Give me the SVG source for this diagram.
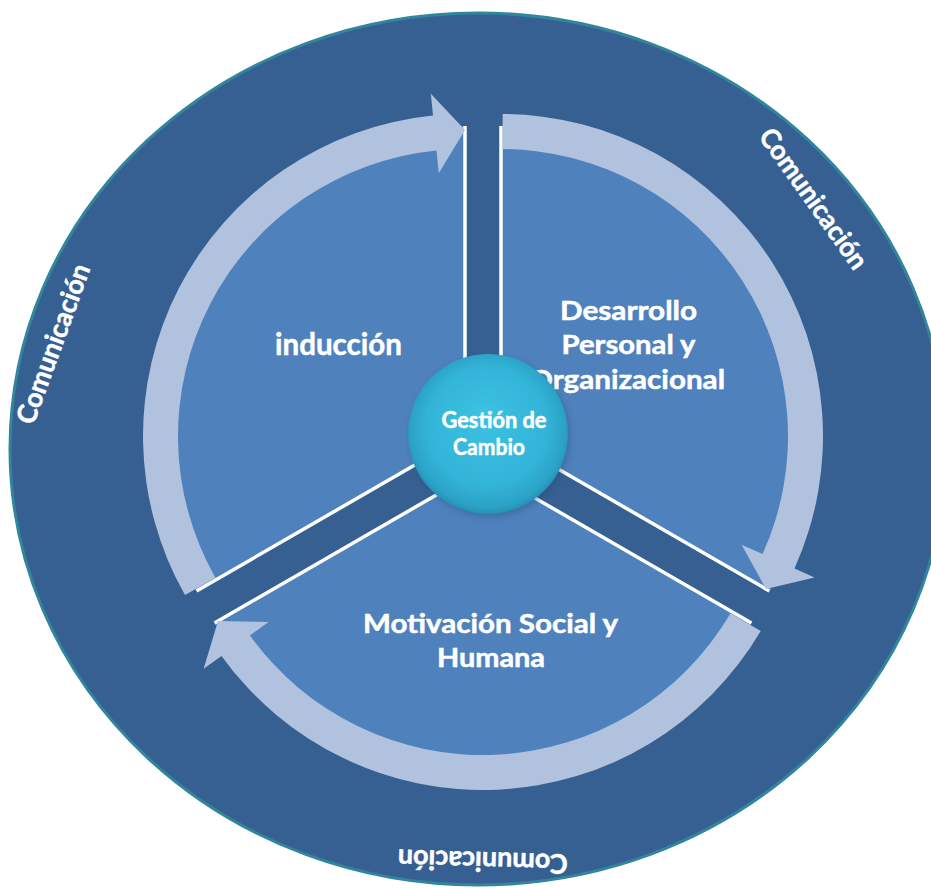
<svg xmlns="http://www.w3.org/2000/svg" width="931" height="888" viewBox="0 0 931 888">
  <defs>
    <radialGradient id="hubFill" cx="50%" cy="48%" r="52%" fx="48%" fy="38%">
      <stop offset="0" stop-color="#3DC2E2"/>
      <stop offset="0.72" stop-color="#32B4D8"/>
      <stop offset="0.93" stop-color="#2BA2C6"/>
      <stop offset="1" stop-color="#268FB2"/>
    </radialGradient>
    <filter id="hubShadow" x="-30%" y="-30%" width="160%" height="160%">
      <feGaussianBlur stdDeviation="3"/>
    </filter>
  </defs>
  <style>
    .ring { fill: #376092; stroke: #31859C; stroke-width: 3; }
    .sector { fill: #4F81BD; }
    .edge { stroke: #FFFFFF; stroke-width: 3.5; fill: none; }
    .arrow { fill: #B0C2DE; }
    text { font-family: Lato, "Liberation Sans", sans-serif; font-weight: bold; fill: #FFFFFF; stroke: #FFFFFF; stroke-width: 0.5; text-anchor: middle; }
    .lbl { font-size: 26px; }
    .big { font-size: 31px; }
    .hub-lbl { font-size: 22px; }
    .ring-lbl { font-size: 27px; }
  </style>

  <!-- outer communication ring -->
  <g id="comunicacion">
    <ellipse class="ring" cx="478" cy="449" rx="468" ry="436"/>
    <text class="ring-lbl" transform="translate(806,204) rotate(54.5)" textLength="166" lengthAdjust="spacingAndGlyphs">Comunicación</text>
    <text class="ring-lbl" transform="translate(62,347) rotate(-70)" textLength="168" lengthAdjust="spacingAndGlyphs">Comunicación</text>
    <text class="ring-lbl" transform="translate(483,852) rotate(181.7)" textLength="170" lengthAdjust="spacingAndGlyphs">Comunicación</text>
  </g>

  <!-- three exploded sectors -->
  <g id="induccion">
    <path class="sector" d="M465,436 L196.53,591 A310,310 0 0 1 465,126 Z"/>
    <path class="edge" d="M196.53,591 L465,436 L465,126"/>
    <text class="big" x="338.5" y="355" textLength="127" lengthAdjust="spacingAndGlyphs">inducción</text>
  </g>

  <g id="desarrollo">
    <path class="sector" d="M501,436 L501,126 A310,310 0 0 1 769.47,591 Z"/>
    <path class="edge" d="M501,126 L501,436 L769.47,591"/>
    <text class="lbl" x="628.5" y="320" textLength="137" lengthAdjust="spacingAndGlyphs">Desarrollo</text>
    <text class="lbl" x="628.5" y="354" textLength="134" lengthAdjust="spacingAndGlyphs">Personal y</text>
    <text class="lbl" x="627" y="389" textLength="196" lengthAdjust="spacingAndGlyphs">Organizacional</text>
  </g>

  <g id="motivacion">
    <path class="sector" d="M483,468 L751.47,623 A310,310 0 0 1 214.53,623 Z"/>
    <path class="edge" d="M751.47,623 L483,468 L214.53,623"/>
    <text class="lbl" x="490.5" y="633" textLength="255" lengthAdjust="spacingAndGlyphs">Motivación Social y</text>
    <text class="lbl" x="491" y="667" textLength="108" lengthAdjust="spacingAndGlyphs">Humana</text>
  </g>

  <!-- curved cycle arrows -->
  <g id="connectors">
    <path class="arrow" d="M185.02,595.05 A322,322 0 0 1 433.02,115.59 L430.83,93.7 L465,130 L438.78,173.3 L436.5,150.42 A287,287 0 0 0 215.46,577.76 Z"/>
    <path class="arrow" d="M502.69,114 A322,322 0 0 1 794.47,568.51 L814.52,577.56 L766,589 L741.61,544.64 L762.57,554.1 A287,287 0 0 0 502.5,149 Z"/>
    <path class="arrow" d="M760.73,630.94 A322,322 0 0 1 221.51,655.9 L203.64,668.74 L218,621 L268.61,622.05 L249.93,635.48 A287,287 0 0 0 730.54,613.23 Z"/>
  </g>

  <!-- central hub -->
  <g id="gestion">
    <circle cx="490" cy="437" r="80" fill="#1F4A70" opacity="0.35" filter="url(#hubShadow)"/>
    <circle cx="488" cy="434" r="80" fill="url(#hubFill)"/>
    <text class="hub-lbl" x="494" y="428" textLength="105" lengthAdjust="spacingAndGlyphs">Gestión de</text>
    <text class="hub-lbl" x="489" y="455" textLength="72" lengthAdjust="spacingAndGlyphs">Cambio</text>
  </g>
</svg>
